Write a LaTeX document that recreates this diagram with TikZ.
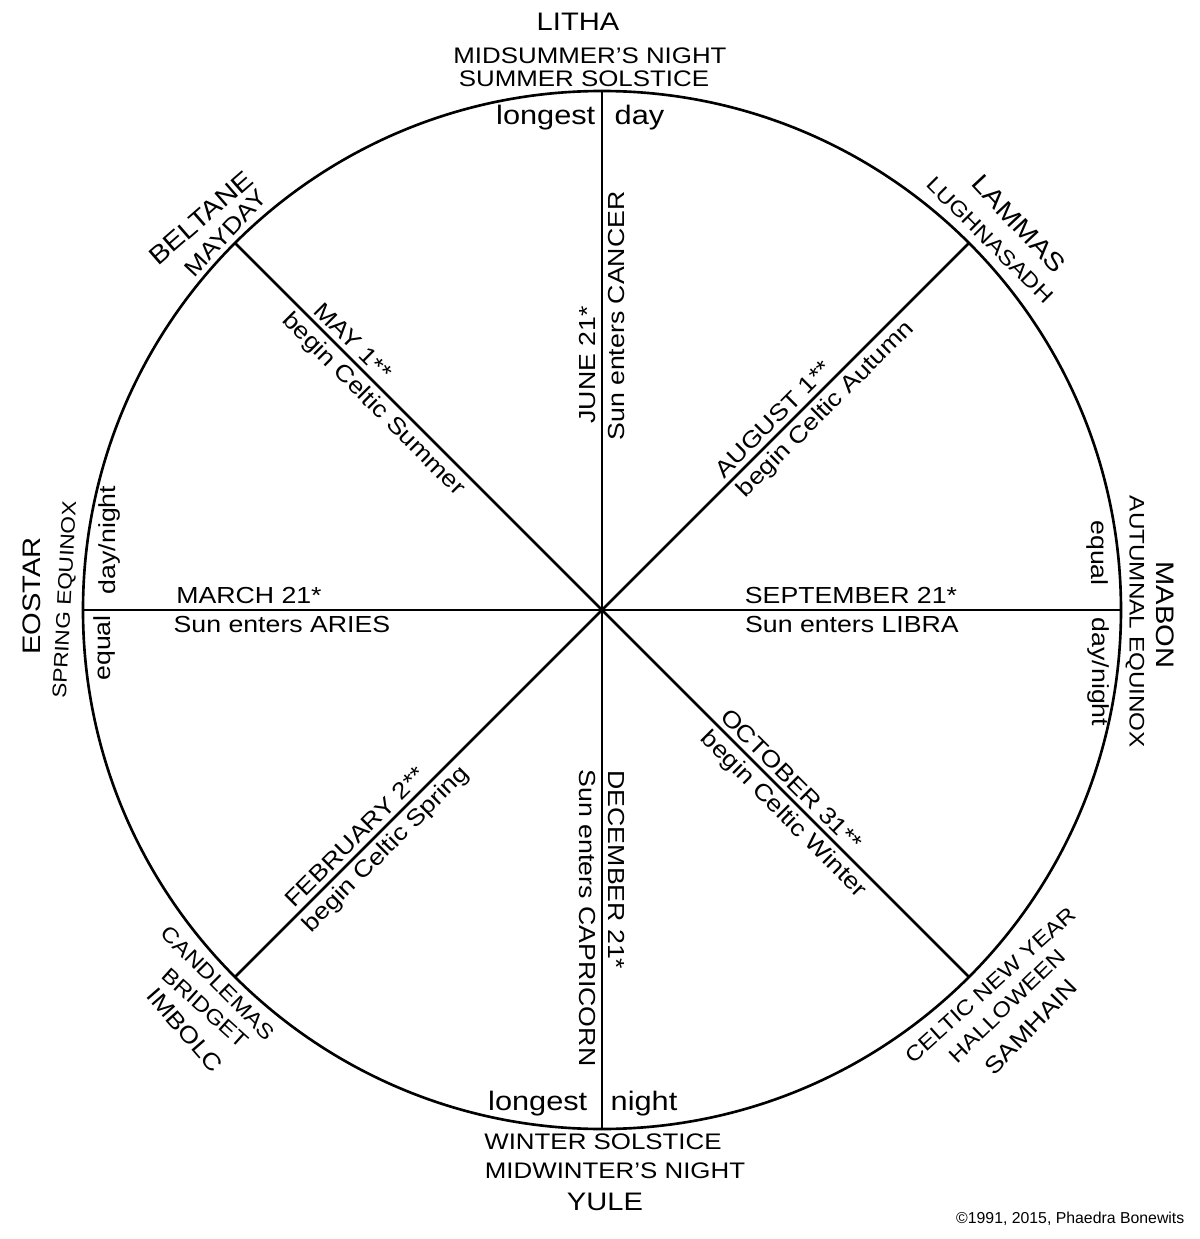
\documentclass[tikz,border=0pt]{standalone}
\usepackage{fontspec}
\setmainfont{Liberation Sans}[FakeStretch=1.15]
\newfontfamily\plainfont{Liberation Sans}
\begin{document}
\begin{tikzpicture}[x=0.01cm, y=0.01cm,
		lbl/.style={font=\fontsize{6.6}{8}\selectfont, inner sep=1.5pt},
		ttl/.style={font=\fontsize{6.4}{8}\selectfont, inner sep=0pt},
		nm/.style={font=\fontsize{7.2}{8}\selectfont, inner sep=0pt},
		big/.style={font=\fontsize{7.6}{9}\selectfont, inner sep=0pt},
		sm/.style={font=\fontsize{6}{7}\selectfont, inner sep=0pt},
		rim/.style={line width=0.75pt}]
	\useasboundingbox (-602,-629) rectangle (598,610);
	\coordinate (c) at(0,0);
	\foreach \a in {0,45,...,315}
		\coordinate (r\a) at(\a:519);
	\draw[rim] (c) circle (519);
	\foreach \a in {0,45,...,315}
		\draw[rim] (c)--(r\a);
	\fill (c) circle (3);
	\node[nm] (litha) at(-24,588) {LITHA};
	\node[ttl] (midsummer) at(-12,554) {MIDSUMMER'S NIGHT};
	\node[ttl] (summer) at(-18,531) {SUMMER SOLSTICE};
	\node[big, anchor=base east] (longd) at(-6,485) {longest};
	\node[big, anchor=base west] (day) at(12,485) {day};
	\node[big, anchor=base east] (longn) at(-14,-500) {longest};
	\node[big, anchor=base west] (night) at(8,-500) {night};
	\node[ttl] (winter) at(1,-532) {WINTER SOLSTICE};
	\node[ttl] (midwinter) at(13,-561) {MIDWINTER'S NIGHT};
	\node[nm] (yule) at(3,-592) {YULE};
	\node[nm, rotate=90] (eostar) at(-570,14) {EOSTAR};
	\node[sm, rotate=87, font=\fontsize{5.6}{7}\selectfont] (spring) at(-536,10) {SPRING EQUINOX};
	\node[lbl, rotate=90] (dnl) at(-492,70) {day/night};
	\node[lbl, rotate=90] (eql) at(-497,-38) {equal};
	\node[lbl, anchor=south] (march) at(180:353) {MARCH 21*};
	\node[lbl, anchor=north] (aries) at(180:320) {Sun enters ARIES};
	\node[lbl, anchor=south] (sept) at(0:249) {SEPTEMBER 21*};
	\node[lbl, anchor=north] (libra) at(0:250) {Sun enters LIBRA};
	\node[lbl, rotate=-90] (eqr) at(495,57) {equal};
	\node[lbl, rotate=-90] (dnr) at(496,-62) {day/night};
	\node[sm, rotate=-90] (autumn) at(533,-12) {AUTUMNAL EQUINOX};
	\node[nm, rotate=-90] (mabon) at(563,-5) {MABON};
	\node[lbl, rotate=90, anchor=south] (june) at(90:245) {JUNE 21*};
	\node[lbl, rotate=90, anchor=north] (cancer) at(90:294) {Sun enters CANCER};
	\node[lbl, rotate=-90, anchor=south] (dec) at(270:260) {DECEMBER 21*};
	\node[lbl, rotate=-90, anchor=north] (capri) at(270:308) {Sun enters CAPRICORN};
	\node[lbl, rotate=-45, anchor=south] (may) at(135:366) {MAY 1**};
	\node[lbl, rotate=-45, anchor=north] (csummer) at(135:307) {begin Celtic Summer};
	\node[lbl, rotate=45, anchor=south] (aug) at(45:256) {AUGUST 1**};
	\node[lbl, rotate=45, anchor=north] (cautumn) at(45:300) {begin Celtic Autumn};
	\node[lbl, rotate=-45, anchor=south] (oct) at(-45:254) {OCTOBER 31**};
	\node[lbl, rotate=-45, anchor=north] (cwinter) at(-45:273) {begin Celtic Winter};
	\node[lbl, rotate=45, anchor=south] (feb) at(225:335) {FEBRUARY 2**};
	\node[lbl, rotate=45, anchor=north] (cspring) at(225:322) {begin Celtic Spring};
	\node[nm, rotate=41] (beltane) at(-401,392) {BELTANE};
	\node[lbl, rotate=47, inner sep=0pt] (mayday) at(-376,377) {MAYDAY};
	\node[nm, rotate=-47] (lammas) at(417,386) {LAMMAS};
	\node[sm, rotate=-45] (lugh) at(388,370) {LUGHNASADH};
	\node[sm, rotate=42] (newyear) at(389,-375) {CELTIC NEW YEAR};
	\node[sm, rotate=44] (halloween) at(405,-396) {HALLOWEEN};
	\node[lbl, rotate=46, inner sep=0pt] (samhain) at(429,-417) {SAMHAIN};
	\node[sm, rotate=-45] (candlemas) at(-384,-373) {CANDLEMAS};
	\node[sm, rotate=-42] (bridget) at(-397,-398) {BRIDGET};
	\node[lbl, rotate=-49, inner sep=0pt] (imbolc) at(-417,-420) {IMBOLC};
	\node[font=\plainfont\fontsize{4.5}{5}\selectfont, anchor=base east, inner sep=0pt] (copy) at(583,-613) {©1991, 2015, Phaedra Bonewits};
\end{tikzpicture}
\end{document}
